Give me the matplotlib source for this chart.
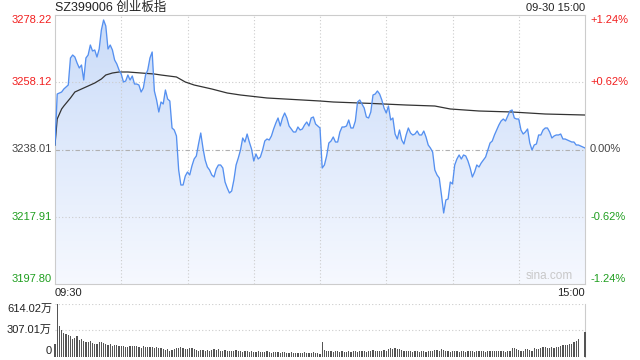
import matplotlib
matplotlib.use("Agg")
import matplotlib.pyplot as plt
import numpy as np
from matplotlib.patches import Polygon
from matplotlib.transforms import blended_transform_factory as btf

plt.rcParams['font.family'] = ['Liberation Sans', 'Noto Sans CJK SC', 'DejaVu Sans']

title = "SZ399006 创业板指"
stamp = "09-30 15:00"
prev_close = 3238.01
price_ticks = [3278.22, 3258.12, 3238.01, 3217.91, 3197.80]
pct_labels = ["+1.24%", "+0.62%", "0.00%", "-0.62%", "-1.24%"]
vol_ticks = [614.02, 307.01, 0]
vol_labels = ["614.02万", "307.01万", "0"]
time_labels = ["09:30", "15:00"]
grid_minutes = [30, 60, 90, 120, 150, 180, 210]

price = [
    3239.36, 3254.60, 3254.90, 3255.20, 3256.10, 3256.70, 3257.29, 3265.37, 3266.26, 3265.66,
    3263.87, 3262.38, 3263.27, 3258.79, 3265.37, 3266.26, 3269.25, 3267.46, 3267.76, 3265.66,
    3268.06, 3273.74, 3276.73, 3274.93, 3268.06, 3269.25, 3267.76, 3264.77, 3263.57, 3261.78,
    3260.58, 3258.19, 3258.49, 3260.28, 3258.79, 3259.98, 3257.59, 3257.59, 3257.29, 3255.20,
    3256.40, 3260.28, 3261.78, 3265.37, 3267.16, 3255.50, 3252.81, 3249.22, 3252.21, 3251.61,
    3255.80, 3253.11, 3252.51, 3244.44, 3243.84, 3242.05, 3231.88, 3227.40, 3227.40, 3230.09,
    3231.28, 3230.39, 3233.08, 3235.17, 3236.07, 3239.66, 3242.94, 3238.46, 3234.87, 3232.78,
    3231.88, 3230.39, 3229.79, 3232.18, 3233.38, 3233.38, 3232.48, 3228.29, 3226.50, 3225.01,
    3225.60, 3228.89, 3233.38, 3235.47, 3237.86, 3241.45, 3240.25, 3242.64, 3240.25, 3238.16,
    3234.57, 3236.67, 3235.17, 3235.77, 3237.86, 3240.55, 3241.15, 3240.85, 3242.05, 3244.14,
    3245.93, 3247.43, 3245.04, 3247.43, 3248.92, 3247.43, 3245.04, 3244.14, 3243.24, 3243.24,
    3244.74, 3243.84, 3244.14, 3245.34, 3246.23, 3245.04, 3247.43, 3247.73, 3245.63, 3245.04,
    3244.44, 3232.48, 3233.38, 3236.07, 3239.95, 3240.55, 3241.75, 3240.25, 3240.25, 3243.24,
    3244.74, 3244.74, 3245.04, 3246.83, 3244.44, 3244.44, 3246.53, 3252.21, 3252.81, 3251.61,
    3250.42, 3247.73, 3247.43, 3249.22, 3254.30, 3254.60, 3255.50, 3254.60, 3252.81, 3250.42,
    3248.92, 3251.01, 3246.83, 3247.43, 3242.64, 3241.15, 3243.84, 3240.85, 3239.66, 3242.35,
    3244.44, 3242.94, 3242.35, 3242.64, 3243.54, 3242.35, 3242.35, 3243.54, 3241.75, 3239.36,
    3238.46, 3237.26, 3231.88, 3230.39, 3229.49, 3224.41, 3219.03, 3222.91, 3223.21, 3228.29,
    3227.70, 3233.38, 3235.17, 3236.37, 3235.17, 3236.37, 3236.07, 3234.57, 3232.48, 3229.79,
    3231.28, 3233.38, 3232.78, 3233.98, 3234.87, 3235.77, 3237.86, 3239.95, 3240.55, 3242.35,
    3243.84, 3245.34, 3246.53, 3247.13, 3246.53, 3248.03, 3249.52, 3249.82, 3247.43, 3247.13,
    3247.13, 3243.84, 3242.64, 3243.24, 3244.14, 3239.95, 3237.86, 3239.36, 3239.66, 3242.35,
    3242.35, 3243.84, 3244.44, 3244.44, 3243.24, 3241.45, 3242.05, 3242.35, 3242.35, 3242.64,
    3241.15, 3241.15, 3240.85, 3240.55, 3240.25, 3240.25, 3239.36, 3239.36, 3239.06, 3238.76,
    3238.46,
]

avg_minutes = [0, 1, 2, 3, 4, 7, 9, 12, 15, 18, 21, 23, 26, 29, 33, 39, 45, 48, 55, 59,
               63, 71, 78, 84, 96, 120, 126, 144, 159, 172, 179, 192, 207, 222, 240]
avg_price = [3239.36, 3247.13, 3248.62, 3250.12, 3251.01, 3253.41, 3255.20, 3256.10, 3256.99, 3257.89,
             3259.09, 3260.28, 3260.88, 3261.18, 3261.18, 3260.88, 3260.58, 3260.28, 3259.69, 3258.19,
             3257.29, 3256.10, 3254.90, 3254.30, 3253.41, 3252.51, 3252.21, 3251.76, 3251.31, 3251.01,
             3250.12, 3249.52, 3249.22, 3248.62, 3248.32]

volume = [
    150, 614, 356, 315, 276, 260, 254, 237, 210, 213,
    234, 195, 200, 180, 165, 170, 176, 160, 150, 145,
    165, 168, 160, 150, 140, 145, 125, 135, 130, 128,
    120, 123, 115, 110, 125, 120, 125, 118, 112, 105,
    118, 108, 112, 110, 115, 100, 106, 100, 95, 84,
    80, 90, 70, 80, 90, 96, 94, 108, 100, 86,
    92, 104, 96, 82, 72, 68, 76, 72, 66, 74,
    70, 78, 86, 78, 82, 70, 66, 74, 62, 70,
    66, 62, 74, 66, 62, 58, 66, 62, 54, 62,
    58, 54, 62, 58, 50, 54, 62, 50, 46, 54,
    58, 50, 46, 54, 50, 46, 42, 50, 46, 42,
    46, 42, 46, 50, 42, 38, 46, 54, 42, 38,
    30, 164, 74, 62, 66, 70, 58, 62, 66, 58,
    62, 58, 54, 62, 58, 66, 62, 58, 70, 62,
    66, 58, 62, 70, 78, 66, 70, 62, 66, 74,
    70, 86, 94, 90, 98, 90, 86, 74, 66, 70,
    62, 66, 58, 62, 66, 58, 62, 66, 58, 62,
    70, 66, 74, 78, 70, 82, 74, 66, 62, 58,
    66, 70, 62, 58, 66, 62, 58, 66, 70, 62,
    58, 62, 66, 70, 62, 58, 66, 62, 70, 66,
    62, 70, 66, 62, 58, 66, 70, 94, 98, 82,
    74, 66, 70, 90, 82, 74, 70, 94, 86, 82,
    98, 106, 110, 102, 98, 106, 102, 110, 115, 119,
    131, 135, 131, 143, 151, 164, 180, 205, 0, 0,
    290,
]

RED = "#f21f1f"
GREEN = "#1f9e1f"
NEUTRAL = "#444444"
GRID = "#cccccc"
FRAME = "#cccccc"
LINE = "#5590f0"

W, H = 640, 360
fig = plt.figure(figsize=(6.4, 3.6), dpi=100)
L, R = 55, 585
ax = fig.add_axes([L / W, 1 - 284 / H, (R - L) / W, (284 - 15) / H])
ax2 = fig.add_axes([L / W, 1 - 356.5 / H, (R - L) / W, (356.5 - 304) / H])

minutes = np.arange(len(price))
ymin, ymax = price_ticks[-1], price_ticks[0]
ax.set_xlim(0, 240)
ax.set_ylim(ymin, ymax)

# gradient fill under price line
grad = np.linspace(0, 1, 256).reshape(-1, 1)
top_c = np.array([0.79, 0.86, 0.975])
bot_c = np.array([0.965, 0.975, 0.998])
img = top_c * (1 - grad)[..., None] + bot_c * grad[..., None]
img = img.reshape(256, 1, 3)
im = ax.imshow(img, extent=[0, 240, ymin, ymax], aspect='auto', origin='upper', zorder=1)
verts = np.column_stack([np.r_[minutes, minutes[-1], minutes[0]],
                         np.r_[price, ymin, ymin]])
poly = Polygon(verts, closed=True, facecolor='none', edgecolor='none')
ax.add_patch(poly)
im.set_clip_path(poly)

# grid
for gm in grid_minutes:
    ax.axvline(gm, color=GRID, lw=0.8, ls=(0, (1, 2)), zorder=2)
ax.axhline(price_ticks[1], color=GRID, lw=0.8, ls=(0, (1, 2)), zorder=2)
ax.axhline(price_ticks[3], color=GRID, lw=0.8, ls=(0, (1, 2)), zorder=2)
ax.axhline(price_ticks[2], color="#b0b0b0", lw=0.8, ls=(0, (4, 2, 1, 2)), zorder=2)

ax.plot(minutes, price, color=LINE, lw=0.95, zorder=4)
ax.plot(avg_minutes, avg_price, color="#333333", lw=0.9, zorder=3)

for s in ax.spines.values():
    s.set_color(FRAME)
    s.set_linewidth(0.8)
ax.set_xticks([])
ax.set_yticks([])

tl = btf(ax.transAxes, ax.transData)
colors = [RED, RED, NEUTRAL, GREEN, GREEN]
vas = ['top', 'center', 'center', 'center', 'bottom']
for v, lab, c, va in zip(price_ticks, pct_labels, colors, vas):
    ax.text(-3 / 530, v, f"{v:.2f}", transform=tl, ha='right', va=va, color=c, fontsize=8)
    ax.text(1 + 5 / 530, v, lab, transform=tl, ha='left', va=va, color=c, fontsize=8)

ax.text(1 - 12 / 530, 0.008, "sina.com", transform=ax.transAxes, ha='right', va='bottom',
        color="#c8c8c8", fontsize=8.5)

fig.text(L / W, 1 - 8 / H, title, ha='left', va='center', fontsize=9, color="#222222")
fig.text(R / W, 1 - 8 / H, stamp, ha='right', va='center', fontsize=8, color="#222222")
fig.text(L / W, 1 - 293 / H, time_labels[0], ha='left', va='center', fontsize=8, color="#222222")
fig.text(R / W, 1 - 293 / H, time_labels[1], ha='right', va='center', fontsize=8, color="#222222")

# volume panel
ax2.set_xlim(0, 240)
ax2.set_ylim(0, vol_ticks[0])
ax2.bar(minutes, volume, width=0.55, color="#555555", zorder=3, clip_on=False)
ax2.axhline(vol_ticks[0], color=GRID, lw=0.8, ls=(0, (1, 2)), zorder=2)
ax2.axhline(vol_ticks[1], color=GRID, lw=0.8, ls=(0, (1, 2)), zorder=2)
for k in ['left', 'top', 'bottom']:
    ax2.spines[k].set_visible(False)
ax2.spines['right'].set_color(FRAME)
ax2.spines['right'].set_linewidth(0.8)
ax2.set_xticks([])
ax2.set_yticks([])
tl2 = btf(ax2.transAxes, ax2.transData)
for v, lab, va in zip(vol_ticks, vol_labels, ['top', 'center', 'bottom']):
    ax2.text(-3 / 530, v, lab, transform=tl2, ha='right', va=va, color="#222222", fontsize=8)

fig.savefig("out.png", dpi=100)
